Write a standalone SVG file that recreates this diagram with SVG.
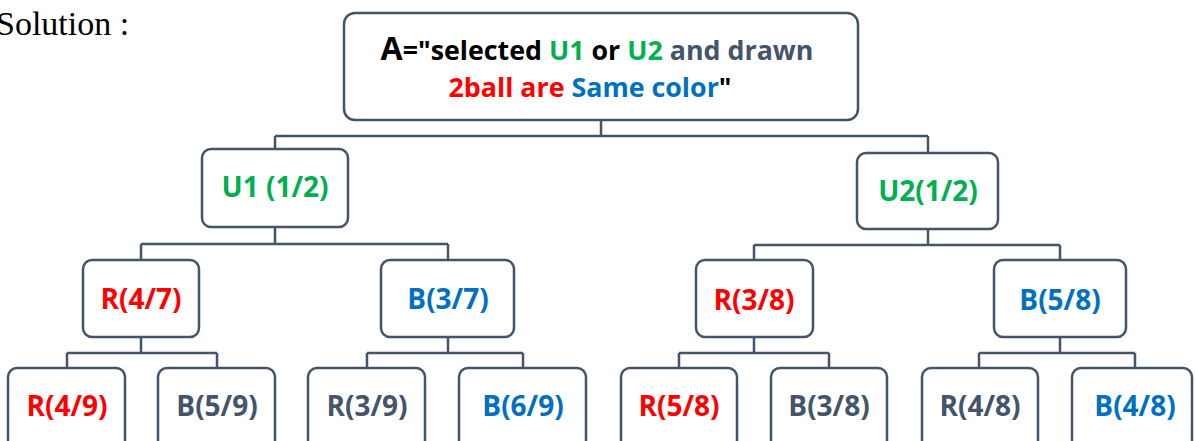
<svg xmlns="http://www.w3.org/2000/svg" width="1195" height="441" viewBox="0 0 1195 441">
  <style>
    .box { fill: #ffffff; stroke: #44546A; stroke-width: 2.5; }
    .wire { fill: none; stroke: #44546A; stroke-width: 2.5; }
    .lbl { font-family: "Open Sans", "Liberation Sans", sans-serif; font-weight: bold; font-size: 28px; text-anchor: middle; }
    .top { font-family: "Open Sans", "Liberation Sans", sans-serif; font-weight: bold; font-size: 26.8px; text-anchor: middle; }
    .g { fill: #00B050; }
    .r { fill: #FF0000; }
    .b { fill: #0070C0; }
    .s { fill: #44546A; }
    .k { fill: #000000; }
  </style>

  <text x="-4" y="35" font-family="Liberation Serif, serif" font-size="34" fill="#000">Solution :</text>

  <!-- tree connectors -->
  <g id="connectors">
    <path class="wire" d="M601 120 V136 M275 136 H928 M275 136 V149 M928 136 V153"/>
    <path class="wire" d="M275 227 V244 M141 244 H448 M141 244 V260 M448 244 V260"/>
    <path class="wire" d="M928 229 V245 M754 245 H1060 M754 245 V260 M1060 245 V260"/>
    <path class="wire" d="M141 337 V353 M67 353 H217 M67 353 V368 M217 353 V368"/>
    <path class="wire" d="M448 337 V353 M367 353 H523 M367 353 V368 M523 353 V368"/>
    <path class="wire" d="M754 337 V353 M679 353 H829 M679 353 V368 M829 353 V368"/>
    <path class="wire" d="M1060 337 V353 M979 353 H1135 M979 353 V368 M1135 353 V368"/>
  </g>

  <!-- root event -->
  <g id="root">
    <rect class="box" x="344" y="13" width="514" height="107" rx="11"/>
    <text class="top" x="597" y="60"><tspan class="k" font-size="32">A</tspan><tspan class="k">="selected </tspan><tspan class="g">U1</tspan><tspan class="k"> or </tspan><tspan class="g">U2</tspan><tspan class="s"> and drawn</tspan></text>
    <text class="top" x="590" y="97"><tspan class="r">2ball are </tspan><tspan class="b">Same color</tspan><tspan class="k">"</tspan></text>
  </g>

  <!-- urns -->
  <g id="u1">
    <rect class="box" x="202" y="149" width="146" height="78" rx="9"/>
    <text class="lbl g" x="275" y="197">U1 (1/2)</text>
  </g>
  <g id="u2">
    <rect class="box" x="857" y="153" width="141" height="76" rx="9"/>
    <text class="lbl g" x="928" y="201">U2(1/2)</text>
  </g>

  <!-- first draw -->
  <g id="u1-r">
    <rect class="box" x="83" y="260" width="116" height="77" rx="9"/>
    <text class="lbl r" x="141" y="309">R(4/7)</text>
  </g>
  <g id="u1-b">
    <rect class="box" x="381" y="260" width="133" height="77" rx="9"/>
    <text class="lbl b" x="448" y="309">B(3/7)</text>
  </g>
  <g id="u2-r">
    <rect class="box" x="696" y="260" width="117" height="77" rx="9"/>
    <text class="lbl r" x="754" y="310">R(3/8)</text>
  </g>
  <g id="u2-b">
    <rect class="box" x="994" y="260" width="132" height="77" rx="9"/>
    <text class="lbl b" x="1060" y="310">B(5/8)</text>
  </g>

  <!-- second draw -->
  <g id="u1-rr">
    <rect class="box" x="8" y="368" width="117" height="82" rx="9"/>
    <text class="lbl r" x="67" y="416">R(4/9)</text>
  </g>
  <g id="u1-rb">
    <rect class="box" x="158" y="368" width="117" height="82" rx="9"/>
    <text class="lbl s" x="217" y="416">B(5/9)</text>
  </g>
  <g id="u1-br">
    <rect class="box" x="308" y="368" width="117" height="82" rx="9"/>
    <text class="lbl s" x="367" y="416">R(3/9)</text>
  </g>
  <g id="u1-bb">
    <rect class="box" x="459" y="368" width="127" height="82" rx="9"/>
    <text class="lbl b" x="523" y="416">B(6/9)</text>
  </g>
  <g id="u2-rr">
    <rect class="box" x="621" y="368" width="116" height="82" rx="9"/>
    <text class="lbl r" x="679" y="416">R(5/8)</text>
  </g>
  <g id="u2-rb">
    <rect class="box" x="771" y="368" width="116" height="82" rx="9"/>
    <text class="lbl s" x="829" y="416">B(3/8)</text>
  </g>
  <g id="u2-br">
    <rect class="box" x="922" y="368" width="116" height="82" rx="9"/>
    <text class="lbl s" x="980" y="416">R(4/8)</text>
  </g>
  <g id="u2-bb">
    <rect class="box" x="1072" y="368" width="120" height="82" rx="9"/>
    <text class="lbl b" x="1135" y="416">B(4/8)</text>
  </g>
</svg>
